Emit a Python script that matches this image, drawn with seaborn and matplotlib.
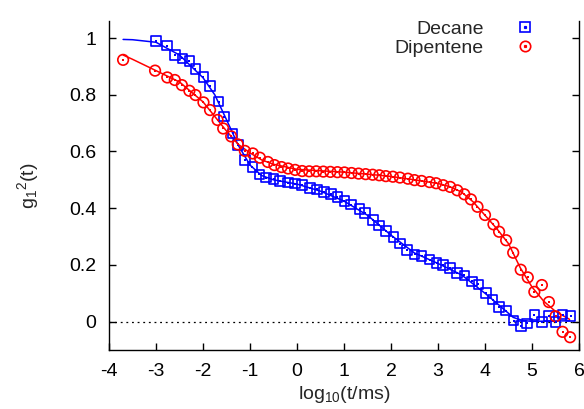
import numpy as np
import pandas as pd
import matplotlib
matplotlib.use("Agg")
import matplotlib.pyplot as plt
import seaborn as sns
from matplotlib.lines import Line2D
from matplotlib.legend_handler import HandlerTuple
from matplotlib.ticker import FuncFormatter

# ---- data ----
decane_x = [-3.00, -2.76, -2.60, -2.44, -2.29, -2.16, -1.99, -1.85, -1.67, -1.55,
            -1.37, -1.25, -1.11, -0.95, -0.80, -0.66, -0.50, -0.36, -0.19, -0.04,
            0.10, 0.28, 0.42, 0.57, 0.72, 0.86, 1.01, 1.15, 1.33, 1.45,
            1.62, 1.75, 1.89, 2.05, 2.19, 2.34, 2.50, 2.65, 2.82, 2.97,
            3.11, 3.25, 3.41, 3.56, 3.72, 3.86, 4.02, 4.16, 4.30, 4.45,
            4.61, 4.77, 4.90, 5.05, 5.21, 5.36, 5.50, 5.65, 5.82]
decane_y = [0.990, 0.973, 0.940, 0.928, 0.918, 0.890, 0.863, 0.830, 0.776, 0.723,
            0.664, 0.623, 0.571, 0.545, 0.519, 0.508, 0.502, 0.496, 0.490, 0.487,
            0.482, 0.472, 0.466, 0.457, 0.449, 0.440, 0.425, 0.413, 0.398, 0.382,
            0.358, 0.339, 0.319, 0.299, 0.275, 0.252, 0.237, 0.231, 0.219, 0.207,
            0.199, 0.189, 0.172, 0.163, 0.142, 0.131, 0.101, 0.078, 0.052, 0.039,
            0.004, -0.016, -0.006, 0.024, -0.002, 0.020, -0.002, 0.025, 0.019]

dipentene_x = [-3.70, -3.02, -2.76, -2.60, -2.45, -2.29, -2.16, -1.99, -1.85, -1.69,
               -1.57, -1.40, -1.26, -1.11, -0.94, -0.79, -0.62, -0.48, -0.33, -0.19,
               -0.04, 0.11, 0.26, 0.41, 0.56, 0.71, 0.86, 1.01, 1.16, 1.31,
               1.46, 1.61, 1.75, 1.89, 2.04, 2.19, 2.36, 2.50, 2.65, 2.82,
               2.96, 3.11, 3.26, 3.41, 3.56, 3.70, 3.84, 4.00, 4.18, 4.30,
               4.45, 4.60, 4.76, 4.91, 5.05, 5.21, 5.36, 5.50, 5.65, 5.81]
dipentene_y = [0.923, 0.885, 0.861, 0.852, 0.834, 0.814, 0.799, 0.773, 0.746, 0.711,
               0.681, 0.653, 0.625, 0.602, 0.593, 0.578, 0.563, 0.552, 0.545, 0.540,
               0.535, 0.531, 0.530, 0.530, 0.529, 0.528, 0.527, 0.526, 0.524, 0.522,
               0.520, 0.518, 0.516, 0.513, 0.511, 0.508, 0.504, 0.499, 0.496, 0.492,
               0.488, 0.481, 0.475, 0.463, 0.449, 0.431, 0.405, 0.376, 0.343, 0.317,
               0.287, 0.243, 0.183, 0.156, 0.105, 0.129, 0.069, 0.019, -0.036, -0.055]

decane_fit_x = [-3.70, -3.50, -3.00, -2.50, -2.00, -1.75, -1.50, -1.25, -1.00, -0.75,
                -0.50, 0.00, 0.50, 1.00, 1.50, 2.00, 2.50, 3.00, 3.50, 4.00,
                4.30, 4.60, 4.80, 5.00, 5.40, 5.80]
decane_fit_y = [0.995, 0.994, 0.985, 0.940, 0.860, 0.800, 0.712, 0.622, 0.552, 0.515,
                0.500, 0.485, 0.460, 0.425, 0.375, 0.305, 0.242, 0.205, 0.165, 0.100,
                0.058, 0.015, 0.004, 0.001, 0.002, 0.003]

dipentene_fit_x = [-3.70, -3.50, -3.00, -2.50, -2.00, -1.50, -1.25, -1.00, -0.75, -0.50,
                   0.00, 0.50, 1.00, 1.50, 2.00, 2.50, 3.00, 3.25, 3.50, 3.75,
                   4.00, 4.25, 4.50, 4.75, 5.00, 5.25, 5.50, 5.80]
dipentene_fit_y = [0.940, 0.925, 0.885, 0.845, 0.775, 0.672, 0.625, 0.595, 0.570, 0.555,
                   0.537, 0.532, 0.527, 0.520, 0.512, 0.500, 0.487, 0.476, 0.457, 0.422,
                   0.375, 0.328, 0.275, 0.190, 0.122, 0.072, 0.036, 0.008]

series_names = ["Decane", "Dipentene"]
x_ticks = [-4, -3, -2, -1, 0, 1, 2, 3, 4, 5, 6]
y_ticks = [0, 0.2, 0.4, 0.6, 0.8, 1]

BLUE = "#0000ff"
RED = "#ff0000"
FS = 14

sns.set_style("ticks")
plt.rcParams["font.family"] = ["Liberation Sans", "DejaVu Sans"]
plt.rcParams["mathtext.fontset"] = "custom"
plt.rcParams["mathtext.rm"] = "Liberation Sans"
plt.rcParams["mathtext.it"] = "Liberation Sans"

fig = plt.figure(figsize=(5.84, 4.09), dpi=100)
ax = fig.add_axes([109 / 584, 1 - 350 / 409, 470 / 584, 329 / 409])

# zero reference line
ax.axhline(0, color="black", lw=0.9, ls=(0, (1.5, 3)), zorder=1)

dfit = pd.DataFrame({"x": decane_fit_x, "y": decane_fit_y})
pfit = pd.DataFrame({"x": dipentene_fit_x, "y": dipentene_fit_y})
sns.lineplot(data=dfit, x="x", y="y", color=BLUE, lw=1.1, sort=False, ax=ax, zorder=3)
sns.lineplot(data=pfit, x="x", y="y", color=RED, lw=1.1, sort=False, ax=ax, zorder=3)

dd = pd.DataFrame({"x": decane_x, "y": decane_y})
pd_ = pd.DataFrame({"x": dipentene_x, "y": dipentene_y})
sns.scatterplot(data=dd, x="x", y="y", marker="s", s=48, facecolor="none",
                edgecolor=BLUE, linewidth=1.2, ax=ax, zorder=4)
sns.scatterplot(data=pd_, x="x", y="y", marker="o", s=58, facecolor="none",
                edgecolor=RED, linewidth=1.2, ax=ax, zorder=4)
# centre dots
sns.scatterplot(data=dd, x="x", y="y", marker="s", s=1.5, color=BLUE, linewidth=0, ax=ax, zorder=5)
sns.scatterplot(data=pd_, x="x", y="y", marker="s", s=1.5, color=RED, linewidth=0, ax=ax, zorder=5)

ax.set_xlim(-4, 6)
ax.set_ylim(-0.1, 1.06)
ax.set_xticks(x_ticks)
ax.set_yticks(y_ticks)
ax.yaxis.set_major_formatter(FuncFormatter(lambda v, p: f"{v:g}"))
ax.xaxis.set_major_formatter(FuncFormatter(lambda v, p: f"{v:g}"))
ax.tick_params(direction="in", length=5, width=1, top=False, right=True,
               labelsize=FS, colors="black", pad=9)
for name, s in ax.spines.items():
    s.set_visible(name != "top")
    s.set_linewidth(1.0)
    s.set_color("black")

ax.set_xlabel(r"$\mathregular{log_{10}(t/ms)}$", fontsize=FS, labelpad=3)
ax.set_ylabel(r"$\mathregular{g_1{}^2(t)}$", fontsize=FS, labelpad=20)

h1 = (Line2D([], [], ls="none", marker="s", ms=7, mfc="none", mec=BLUE, mew=1.2),
      Line2D([], [], ls="none", marker="s", ms=1.3, color=BLUE))
h2 = (Line2D([], [], ls="none", marker="o", ms=7.5, mfc="none", mec=RED, mew=1.2),
      Line2D([], [], ls="none", marker="s", ms=1.3, color=RED))
leg = ax.legend([h1, h2], series_names, handler_map={tuple: HandlerTuple(ndivide=1, pad=0)},
                loc="upper right", bbox_to_anchor=(535 / 584, 1 - 20 / 409),
                bbox_transform=fig.transFigure, frameon=False, markerfirst=False,
                fontsize=FS, handlelength=1.0, handletextpad=1.65, labelspacing=0.1,
                borderaxespad=0, borderpad=0)
for t in leg.get_texts():
    t.set_ha("right")

fig.savefig("out.png", dpi=100)
